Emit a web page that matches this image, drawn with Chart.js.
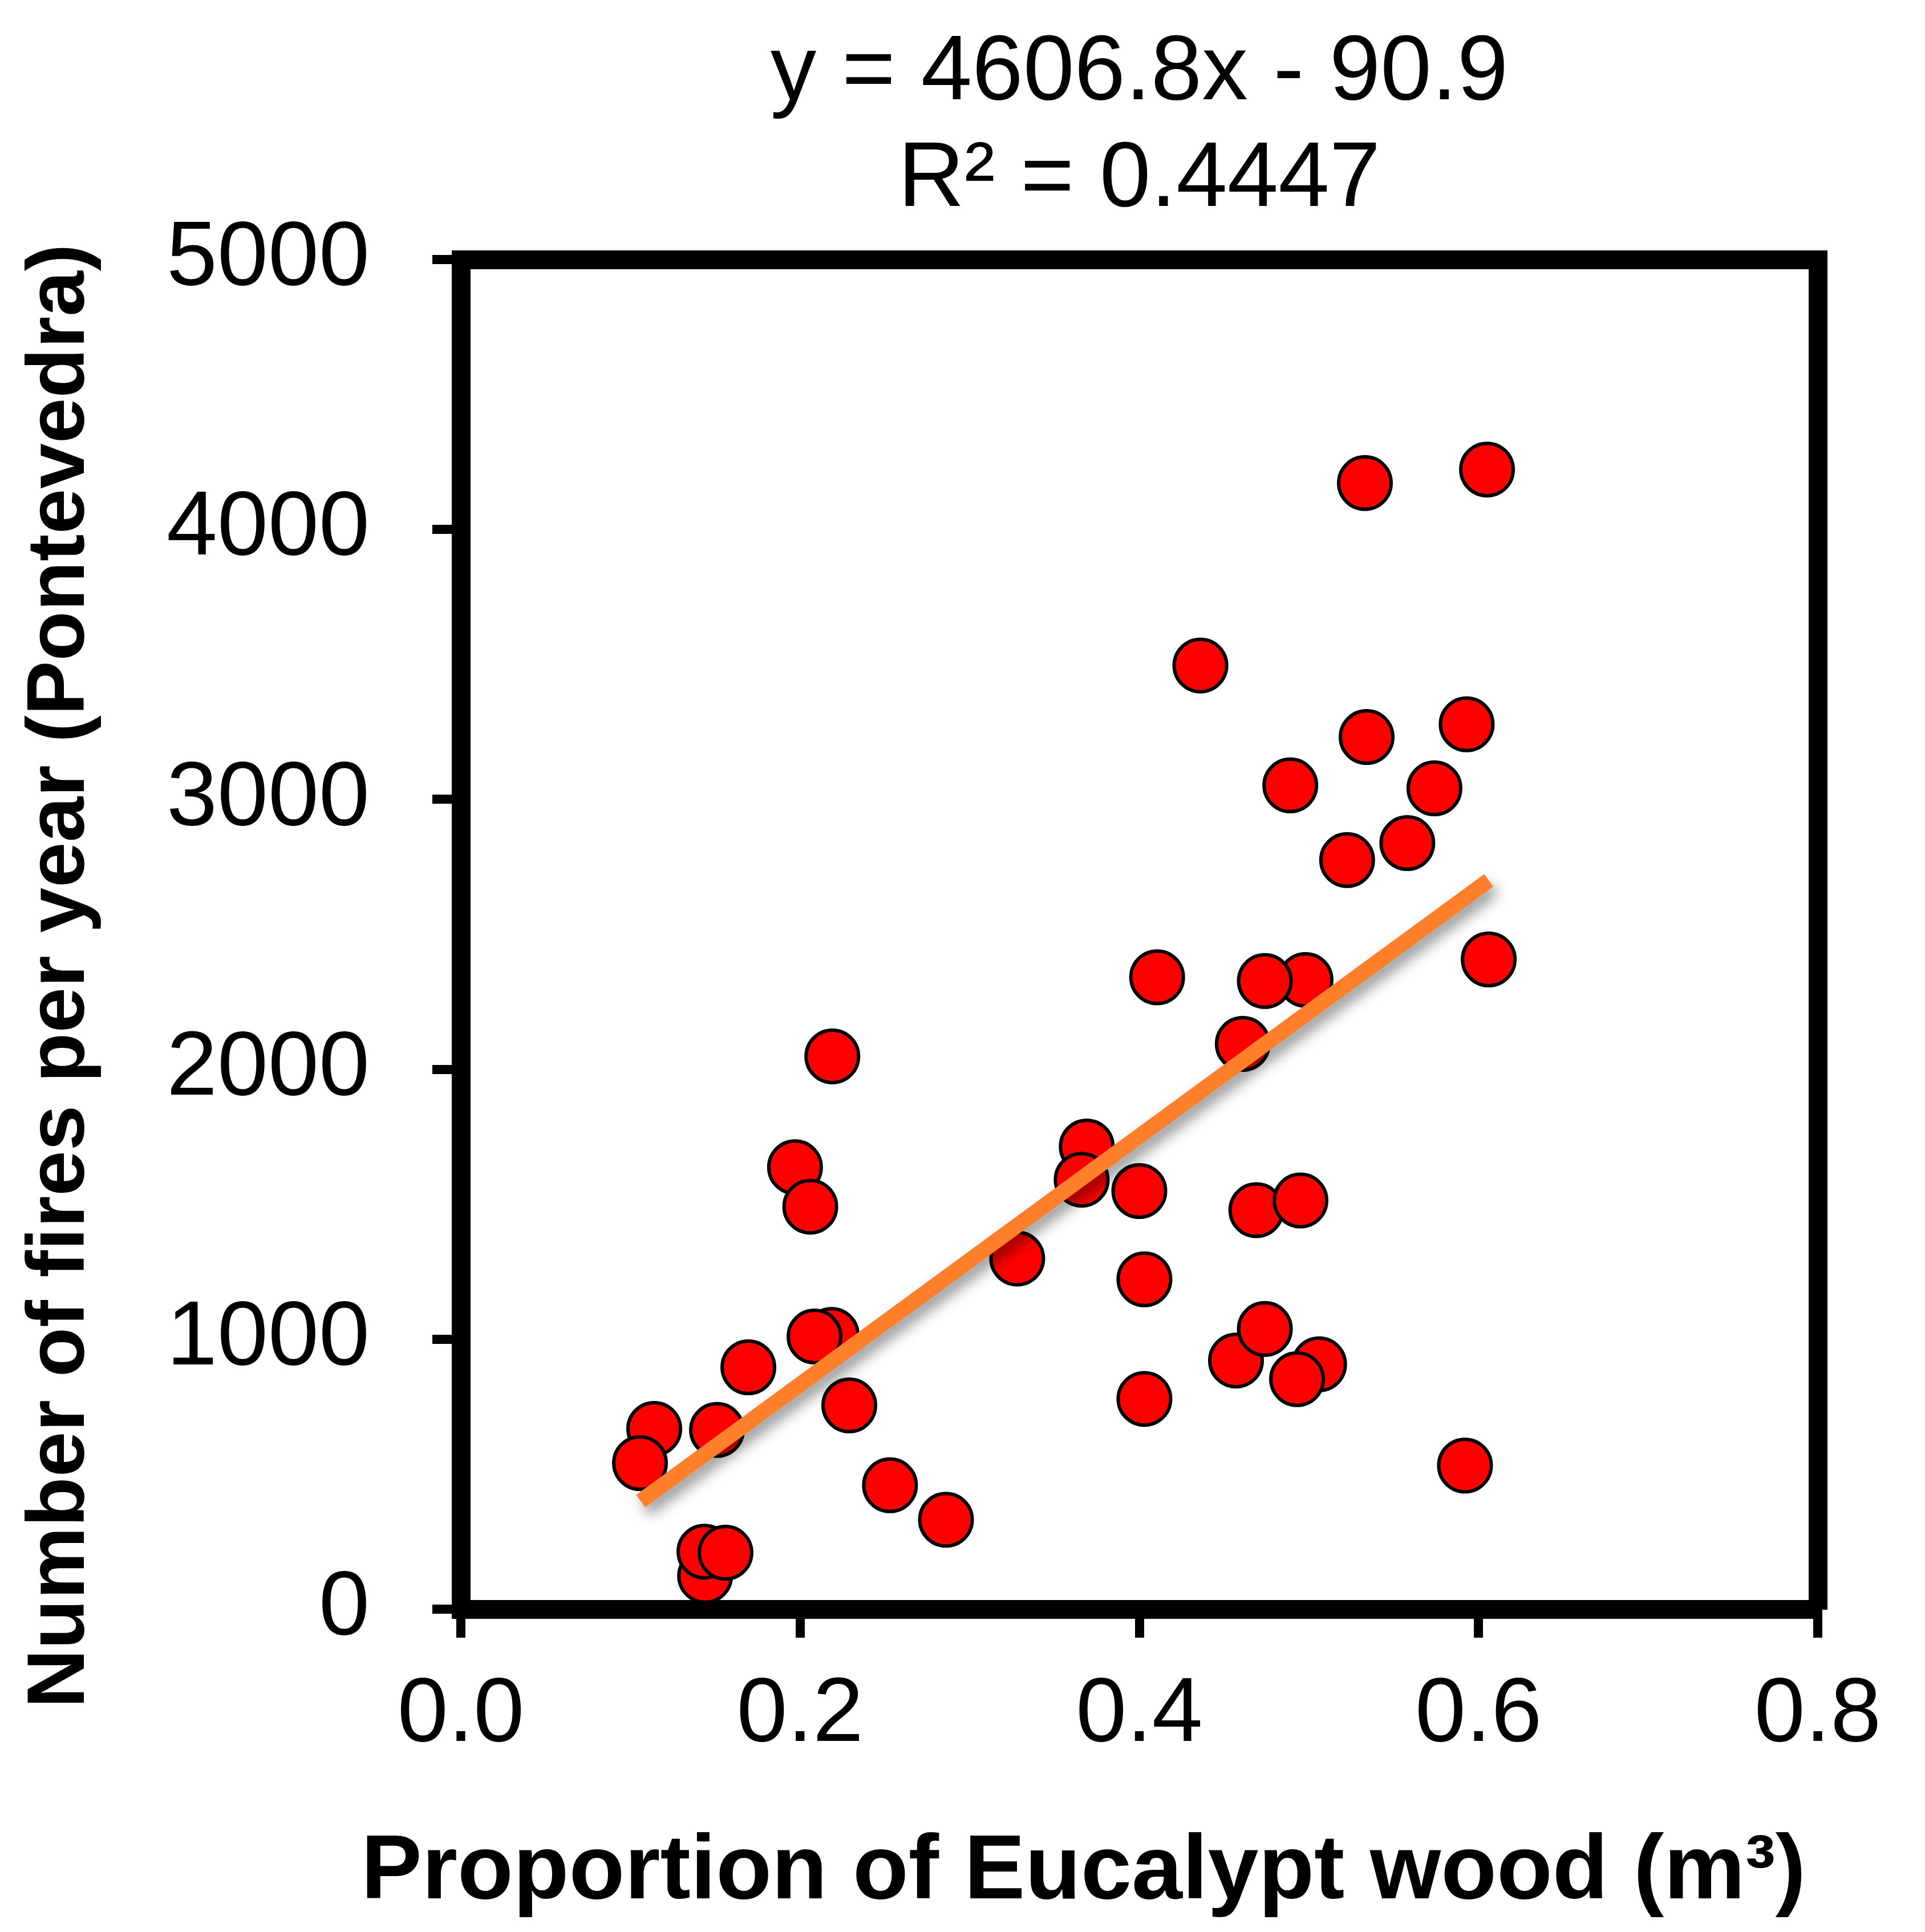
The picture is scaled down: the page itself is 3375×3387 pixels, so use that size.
<!DOCTYPE html>
<html>
<head>
<meta charset="utf-8">
<script src="https://cdn.jsdelivr.net/npm/chart.js@4/dist/chart.umd.min.js"></script>
<style>
  html, body { margin: 0; padding: 0; background: #fff; }
  canvas { display: block; }
</style>
</head>
<body>
<canvas id="fires" width="3375" height="3387"></canvas>
<script>
// Incendios por año (Pontevedra) vs proporción de madera de eucalipto

// Proporción de madera de eucalipto (eje x)
const woodShare = [
  0.114, 0.1056, 0.151, 0.1695, 0.144, 0.1436, 0.156, 0.197, 0.206, 0.219,
  0.2186, 0.2085, 0.229, 0.253, 0.286, 0.328, 0.369, 0.366, 0.400, 0.403,
  0.403, 0.4105, 0.436, 0.457, 0.474, 0.461, 0.469, 0.495, 0.498, 0.474,
  0.506, 0.493, 0.489, 0.5225, 0.533, 0.534, 0.558, 0.574, 0.593, 0.592,
  0.605, 0.606,
];

// Número de incendios por año (eje y)
const firesPerYear = [
  668, 541, 664, 896, 123, 213, 209, 1637, 1491, 2048,
  1016, 1010, 755, 459, 331, 1299, 1714, 1591, 1549, 1222,
  779, 2341, 3496, 921, 1038, 2094, 1478, 1514, 2331, 2327,
  907, 852, 3052, 2775, 4172, 3231, 2838, 3041, 3278, 532,
  4222, 2407,
];

// Extremos de la recta de tendencia
const trendX = [0.106, 0.606];
const trendY = [400, 2700];

const xTicks = [0, 0.2, 0.4, 0.6, 0.8];
const yTicks = [0, 1000, 2000, 3000, 4000, 5000];

const equationLines = ['y = 4606.8x - 90.9', 'R\u00B2 = 0.4447'];
const xTitle = 'Proportion of Eucalypt wood (m\u00B3)';
const yTitle = 'Number of fires per year (Pontevedra)';

const FONT = "'Liberation Sans', Arial, sans-serif";
const BLACK = '#000000';

// Sombra difusa bajo la recta de tendencia (dataset 0)
const lineShadow = {
  id: 'lineShadow',
  beforeDatasetDraw(chart, args) {
    if (args.index !== 0) return;
    const ctx = chart.ctx;
    ctx.save();
    ctx.shadowColor = 'rgba(0,0,0,0.42)';
    ctx.shadowBlur = 24;
    ctx.shadowOffsetX = 8;
    ctx.shadowOffsetY = 14;
  },
  afterDatasetDraw(chart, args) {
    if (args.index === 0) chart.ctx.restore();
  },
};

// Títulos de ejes: en el original no están centrados sobre el área del gráfico
const axisTitles = {
  id: 'axisTitles',
  afterDraw(chart, args, opts) {
    const { ctx, chartArea: a } = chart;
    ctx.save();
    ctx.fillStyle = BLACK;
    ctx.textAlign = 'center';
    ctx.textBaseline = 'middle';

    ctx.font = `bold ${opts.x.size}px ${FONT}`;
    ctx.fillText(opts.x.text, (a.left + a.right) / 2 + opts.x.dx, chart.height - opts.x.fromBottom);

    ctx.font = `bold ${opts.y.size}px ${FONT}`;
    ctx.translate(opts.y.fromLeft, (a.top + a.bottom) / 2 + opts.y.dy);
    ctx.rotate(-Math.PI / 2);
    ctx.fillText(opts.y.text, 0, 0);
    ctx.restore();
  },
};

const points = woodShare.map((x, i) => ({ x, y: firesPerYear[i] }));
const trend = trendX.map((x, i) => ({ x, y: trendY[i] }));

const frame = { display: true, color: BLACK, width: 33 };

new Chart(document.getElementById('fires'), {
  type: 'scatter',
  data: {
    datasets: [
      {
        label: 'Tendencia',
        data: trend,
        showLine: true,
        borderColor: '#ff7f2a',
        borderWidth: 27,
        borderCapStyle: 'butt',
        pointRadius: 0,
        pointHoverRadius: 0,
      },
      {
        label: 'Incendios',
        data: points,
        backgroundColor: '#ff0000',
        borderColor: BLACK,
        borderWidth: 6,
        pointRadius: 46,
        pointHoverRadius: 46,
      },
    ],
  },
  options: {
    responsive: false,
    animation: false,
    events: [],
    layout: { padding: 0 },
    plugins: {
      legend: { display: false },
      title: { display: false },
      tooltip: { enabled: false },
      axisTitles: {
        x: { text: xTitle, size: 160, dx: -98, fromBottom: 103 },
        y: { text: yTitle, size: 143, dy: 73, fromLeft: 108 },
      },
    },
    scales: {
      x: {
        type: 'linear',
        position: 'bottom',
        min: xTicks[0],
        max: xTicks[xTicks.length - 1],
        afterBuildTicks: s => { s.ticks = xTicks.map(v => ({ value: v })); },
        afterFit: s => { s.height = 566; },
        border: frame,
        grid: { drawOnChartArea: false, drawTicks: true, tickLength: 50, lineWidth: 16, color: BLACK },
        ticks: {
          color: BLACK,
          padding: 41,
          font: { family: FONT, size: 160 },
          callback: v => Number(v).toFixed(1),
        },
      },
      y: {
        type: 'linear',
        position: 'left',
        min: yTicks[0],
        max: yTicks[yTicks.length - 1],
        afterBuildTicks: s => { s.ticks = yTicks.map(v => ({ value: v })); },
        afterFit: s => { s.width = 808; },
        border: frame,
        grid: { drawOnChartArea: false, drawTicks: true, tickLength: 50, lineWidth: 16, color: BLACK },
        ticks: {
          color: BLACK,
          padding: 110,
          font: { family: FONT, size: 160 },
          callback: v => String(v),
        },
      },
      xTop: {
        type: 'linear',
        position: 'top',
        min: 0,
        max: 0.8,
        afterFit: s => { s.height = 455; },
        border: frame,
        grid: { display: false },
        ticks: { display: false },
        title: {
          display: true,
          text: equationLines,
          color: BLACK,
          font: { family: FONT, size: 161, lineHeight: 1.16 },
          padding: { top: 36, bottom: 0 },
        },
      },
      yRight: {
        type: 'linear',
        position: 'right',
        min: 0,
        max: 5000,
        afterFit: s => { s.width = 188; },
        border: frame,
        grid: { display: false },
        ticks: { display: false },
      },
    },
  },
  plugins: [lineShadow, axisTitles],
});
</script>
</body>
</html>
